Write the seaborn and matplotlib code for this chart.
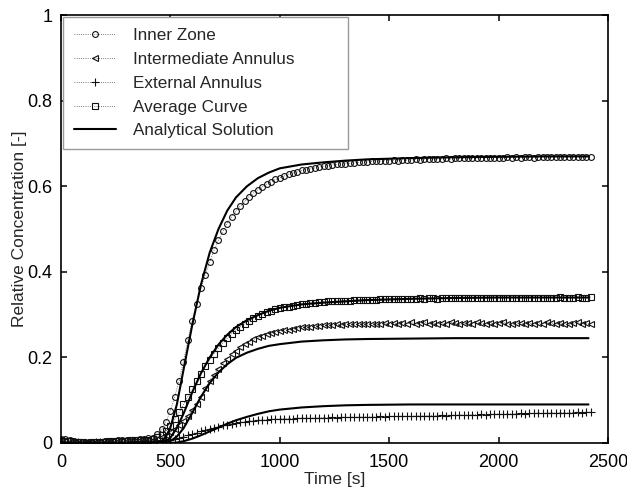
import numpy as np
import pandas as pd
import matplotlib
matplotlib.use("Agg")
import matplotlib.pyplot as plt
import seaborn as sns

# Measured tracer data, sampled every 20 s from 0 to 2420 s
time_s = np.arange(0, 2421, 20)

inner_zone = [
    0.010, 0.009, 0.007, 0.004, 0.002, 0.001, 0.000, 0.001, 0.002, 0.003,
    0.004, 0.005, 0.005, 0.006, 0.007, 0.007, 0.008, 0.008, 0.009, 0.010, 0.011,
    0.012, 0.020, 0.032, 0.050, 0.075, 0.108, 0.145, 0.190, 0.240, 0.285,
    0.325, 0.362, 0.393, 0.423, 0.450, 0.474, 0.495, 0.513, 0.528, 0.542,
    0.554, 0.565, 0.575, 0.584, 0.592, 0.599, 0.605, 0.611, 0.616, 0.620,
    0.624, 0.628, 0.631, 0.634, 0.637, 0.639, 0.641, 0.643, 0.645, 0.647,
    0.648, 0.650, 0.651, 0.652, 0.653, 0.654, 0.655, 0.656, 0.657, 0.657,
    0.658, 0.659, 0.659, 0.660, 0.660,
    0.661, 0.660, 0.662, 0.661, 0.662, 0.663, 0.662, 0.663, 0.664, 0.663,
    0.664, 0.664, 0.665, 0.664, 0.665, 0.665, 0.666, 0.665, 0.666, 0.666,
    0.667, 0.666, 0.667, 0.667, 0.666, 0.667, 0.668, 0.667, 0.668, 0.667,
    0.668, 0.668, 0.667, 0.668, 0.668, 0.669, 0.668, 0.668, 0.669, 0.668,
    0.669, 0.668, 0.669, 0.669, 0.668, 0.669,
]

intermediate_annulus = [
    0.004, 0.004, 0.003, 0.002, 0.001, 0.001, 0.001, 0.002, 0.002, 0.002,
    0.003, 0.003, 0.004, 0.004, 0.004, 0.005, 0.005, 0.005, 0.006, 0.006, 0.006,
    0.007, 0.009, 0.013, 0.018, 0.025, 0.033, 0.042, 0.052, 0.064, 0.077,
    0.092, 0.108, 0.128, 0.145, 0.160, 0.174, 0.186, 0.197, 0.207, 0.216,
    0.224, 0.231, 0.237, 0.242, 0.247, 0.251, 0.254, 0.257, 0.260, 0.262,
    0.264, 0.265, 0.267, 0.268, 0.270, 0.271, 0.272, 0.273, 0.274, 0.275,
    0.275, 0.276, 0.277, 0.276, 0.277, 0.278, 0.277, 0.278, 0.279, 0.278,
    0.279, 0.278, 0.279, 0.280, 0.279,
    0.280, 0.278, 0.281, 0.279, 0.282, 0.278, 0.280, 0.283, 0.279, 0.280,
    0.278, 0.281, 0.279, 0.282, 0.280, 0.277, 0.280, 0.281, 0.279, 0.283,
    0.280, 0.278, 0.281, 0.279, 0.280, 0.282, 0.279, 0.277, 0.280, 0.281,
    0.279, 0.280, 0.278, 0.281, 0.279, 0.282, 0.280, 0.278, 0.281, 0.279,
    0.277, 0.280, 0.282, 0.279, 0.280, 0.278,
]

external_annulus = [
    0.004, 0.003, 0.003, 0.002, 0.002, 0.001, 0.001, 0.001, 0.002, 0.002,
    0.002, 0.002, 0.003, 0.003, 0.003, 0.003, 0.003, 0.004, 0.004, 0.004, 0.004,
    0.004, 0.004, 0.005, 0.006, 0.008, 0.010, 0.012, 0.015, 0.018, 0.021,
    0.024, 0.027, 0.030, 0.033, 0.036, 0.038, 0.041, 0.043, 0.045, 0.047,
    0.048, 0.050, 0.051, 0.052, 0.053, 0.054, 0.054, 0.055, 0.056, 0.056,
    0.057, 0.057, 0.057, 0.058, 0.058, 0.058, 0.059, 0.058, 0.059, 0.059,
    0.059, 0.060, 0.059, 0.060, 0.060, 0.060, 0.061, 0.060, 0.061, 0.061,
    0.061, 0.061, 0.062, 0.061, 0.062,
    0.062, 0.062, 0.063, 0.062, 0.063, 0.063, 0.064, 0.063, 0.064, 0.064,
    0.064, 0.065, 0.064, 0.065, 0.065, 0.066, 0.065, 0.066, 0.066, 0.066,
    0.067, 0.066, 0.067, 0.067, 0.068, 0.067, 0.068, 0.068, 0.068, 0.069,
    0.068, 0.069, 0.069, 0.070, 0.069, 0.070, 0.070, 0.070, 0.071, 0.070,
    0.071, 0.071, 0.072, 0.071, 0.072, 0.072,
]

average_curve = [
    0.006, 0.005, 0.004, 0.003, 0.002, 0.002, 0.001, 0.002, 0.002, 0.003,
    0.003, 0.004, 0.004, 0.005, 0.005, 0.005, 0.006, 0.006, 0.007, 0.007, 0.008,
    0.010, 0.013, 0.019, 0.028, 0.040, 0.055, 0.072, 0.090, 0.108, 0.126,
    0.144, 0.162, 0.179, 0.195, 0.209, 0.222, 0.234, 0.245, 0.255, 0.264,
    0.272, 0.279, 0.286, 0.292, 0.297, 0.301, 0.305, 0.309, 0.312, 0.315,
    0.317, 0.319, 0.321, 0.323, 0.324, 0.326, 0.327, 0.328, 0.329, 0.330,
    0.331, 0.331, 0.332, 0.332, 0.333, 0.333, 0.334, 0.334, 0.334, 0.335,
    0.335, 0.335, 0.336, 0.336, 0.336,
    0.336, 0.337, 0.336, 0.337, 0.337, 0.337, 0.338, 0.337, 0.338, 0.338,
    0.337, 0.338, 0.338, 0.339, 0.338, 0.338, 0.339, 0.338, 0.339, 0.339,
    0.339, 0.338, 0.339, 0.339, 0.340, 0.339, 0.339, 0.340, 0.339, 0.340,
    0.340, 0.339, 0.340, 0.340, 0.340, 0.339, 0.340, 0.340, 0.341, 0.340,
    0.340, 0.340, 0.341, 0.340, 0.340, 0.341,
]

# Analytical solutions
time_an = [0, 420, 440, 460, 480, 500, 530, 560, 600, 640, 680, 720, 760, 800,
           850, 900, 950, 1000, 1100, 1200, 1300, 1400, 1600, 1800, 2000, 2200, 2410]
inner_an = [0, 0, 0.0, 0.004, 0.015, 0.035, 0.09, 0.17, 0.275, 0.37, 0.445, 0.50,
            0.543, 0.574, 0.600, 0.619, 0.632, 0.642, 0.651, 0.656, 0.660, 0.663,
            0.666, 0.668, 0.669, 0.670, 0.670]
average_an = [0, 0, 0, 0, 0.004, 0.012, 0.035, 0.068, 0.118, 0.163, 0.200, 0.230,
              0.253, 0.271, 0.287, 0.299, 0.309, 0.316, 0.324, 0.328, 0.331, 0.334,
              0.337, 0.339, 0.340, 0.340, 0.340]
intermediate_an = [0, 0, 0, 0, 0, 0.004, 0.015, 0.034, 0.070, 0.108, 0.140, 0.165,
                   0.184, 0.199, 0.211, 0.220, 0.227, 0.231, 0.237, 0.240, 0.242,
                   0.243, 0.244, 0.245, 0.245, 0.245, 0.245]
external_an = [0, 0, 0, 0, 0, 0, 0.001, 0.004, 0.010, 0.018, 0.027, 0.036, 0.045,
               0.053, 0.061, 0.068, 0.074, 0.078, 0.083, 0.086, 0.088, 0.089, 0.090,
               0.090, 0.090, 0.090, 0.090]

x_ticks = [0, 500, 1000, 1500, 2000, 2500]
y_ticks = [0, 0.2, 0.4, 0.6, 0.8, 1]
y_tick_labels = ['0', '0.2', '0.4', '0.6', '0.8', '1']

sns.set_style('ticks')
plt.rcParams['font.family'] = ['Liberation Sans', 'DejaVu Sans']

fig = plt.figure(figsize=(6.27, 4.9), dpi=100)
ax = fig.add_axes([0.097, 0.096, 0.873, 0.873])

measured = [
    ('Inner Zone', inner_zone, 'o', 4.2),
    ('Intermediate Annulus', intermediate_annulus, '<', 4.4),
    ('External Annulus', external_annulus, '+', 5.8),
    ('Average Curve', average_curve, 's', 3.8),
]
for name, vals, mk, ms in measured:
    sns.lineplot(x=time_s, y=vals, ax=ax, label=name, color='#555555',
                 linestyle=':', linewidth=0.6, marker=mk, markersize=ms,
                 markerfacecolor='none', markeredgecolor='#111111',
                 markeredgewidth=0.8, sort=False)

for i, vals in enumerate([inner_an, average_an, intermediate_an, external_an]):
    sns.lineplot(x=time_an, y=vals, ax=ax, color='black', linewidth=1.5,
                 label='Analytical Solution' if i == 0 else None, sort=False)

ax.set_xlim(0, 2500)
ax.set_ylim(0, 1)
ax.set_xticks(x_ticks)
ax.set_yticks(y_ticks)
ax.set_yticklabels(y_tick_labels)
ax.tick_params(direction='in', length=4, width=1.1, top=True, right=True,
               labelsize=13, colors='black')
ax.tick_params(axis='x', pad=8)
ax.tick_params(axis='y', pad=6)
for s in ax.spines.values():
    s.set_linewidth(1.2)
    s.set_color('black')
ax.set_xlabel('Time [s]', fontsize=12.5, labelpad=1)
ax.set_ylabel('Relative Concentration [-]', fontsize=12.5, labelpad=0)

leg = ax.legend(loc='upper left', bbox_to_anchor=(0.004, 0.995, 0.52, 0),
                mode='expand', borderaxespad=0, fontsize=12.3, frameon=True,
                fancybox=False, edgecolor='#999999', framealpha=1,
                handlelength=2.5, labelspacing=0.52, borderpad=0.62,
                handletextpad=1.0)
leg.get_frame().set_linewidth(1.0)

fig.savefig('out.png', dpi=100)
